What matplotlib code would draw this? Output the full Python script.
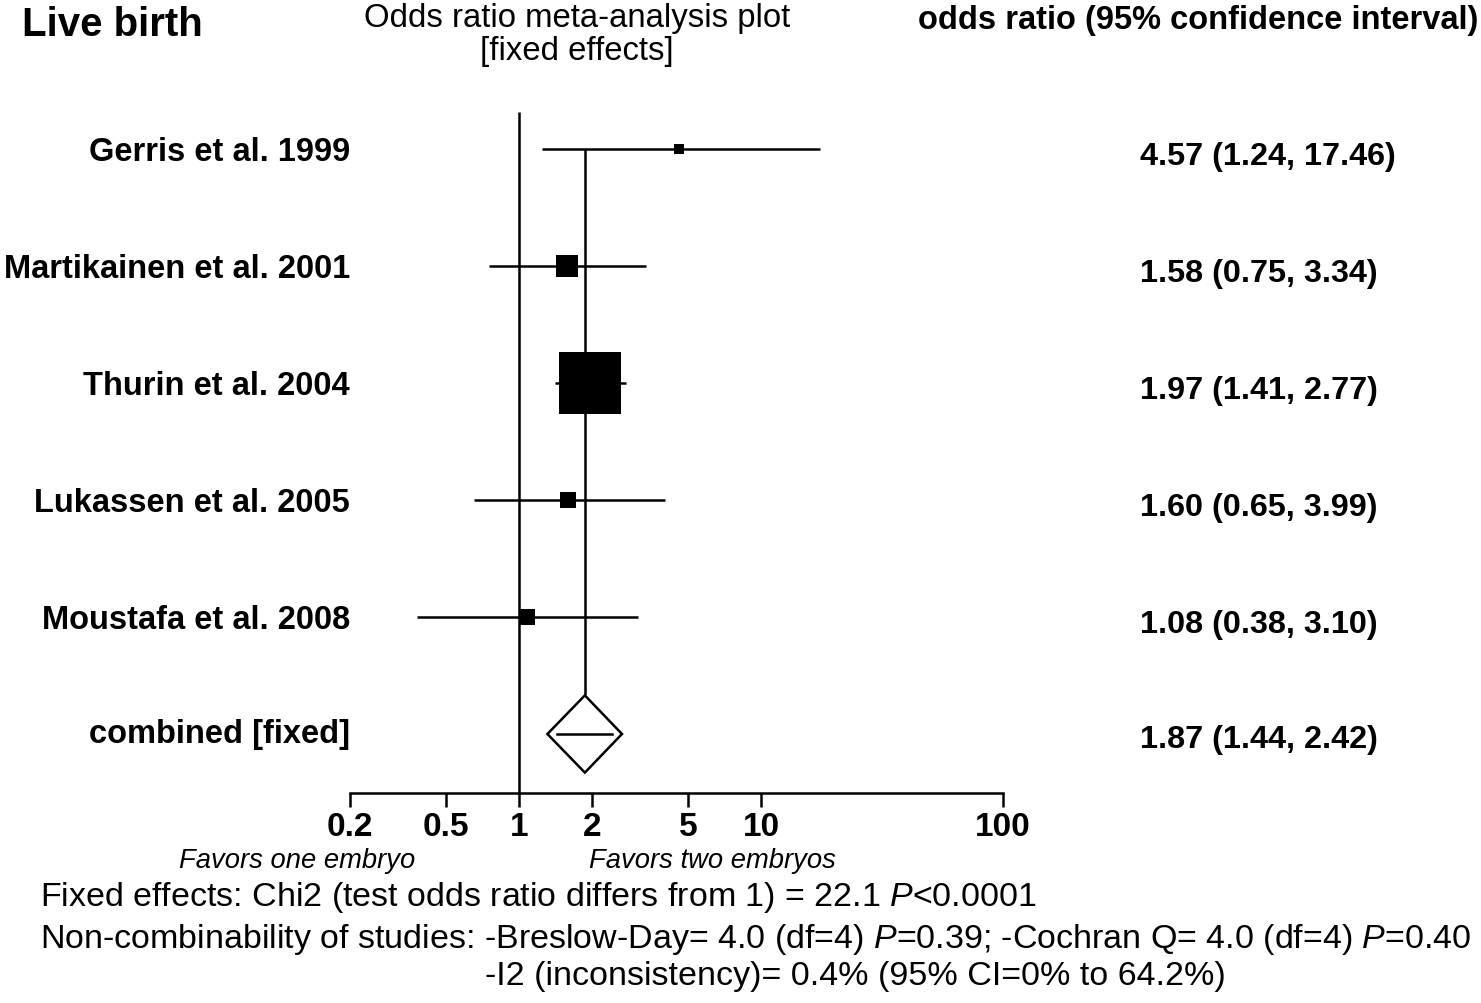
import numpy as np
import matplotlib
matplotlib.use("Agg")
import matplotlib.pyplot as plt
from matplotlib import transforms
from matplotlib.patches import Polygon

plt.rcParams["font.family"] = ["Liberation Sans", "DejaVu Sans"]
plt.rcParams["mathtext.fontset"] = "custom"
plt.rcParams["mathtext.rm"] = "Liberation Sans"
plt.rcParams["mathtext.it"] = "Liberation Sans:italic"

studies = ["Gerris et al. 1999", "Martikainen et al. 2001", "Thurin et al. 2004",
           "Lukassen et al. 2005", "Moustafa et al. 2008"]
odds = [4.57, 1.58, 1.97, 1.60, 1.08]
ci_low = [1.24, 0.75, 1.41, 0.65, 0.38]
ci_high = [17.46, 3.34, 2.77, 3.99, 3.10]
weights = [2.1, 9.2, 77.9, 5.4, 5.4]  # % weight, read from square areas

pooled_label = "combined [fixed]"
pooled_or = 1.87
pooled_low = 1.44
pooled_high = 2.42

tick_values = [0.2, 0.5, 1, 2, 5, 10, 100]
tick_labels = ["0.2", "0.5", "1", "2", "5", "10", "100"]

W, H = 1481, 1004
fig = plt.figure(figsize=(W / 100, H / 100), dpi=100)


def fx(px):
    return px / W


def fy(py):
    return 1 - py / H


ax = fig.add_axes([fx(350), fy(793.5), fx(1003) - fx(350), (793.5 - 91.5) / H])
ax.set_xscale("log")
ax.set_xlim(0.2, 100)
ax.set_ylim(6.5, 0.5)

rows = np.arange(1, len(studies) + 1)
pooled_row = len(studies) + 1
lw = 1.8

# line of no effect and pooled estimate line
ax.plot([1, 1], [0.68, 6.5], color="black", lw=lw, solid_capstyle="butt")
ax.plot([pooled_or, pooled_or], [1, pooled_row - 0.33], color="black", lw=lw,
        solid_capstyle="butt")

for r, o, lo, hi, w in zip(rows, odds, ci_low, ci_high, weights):
    ax.plot([lo, hi], [r, r], color="black", lw=lw, solid_capstyle="butt")
    size = 50 * np.sqrt(w / 100)  # side in points
    ax.scatter([o], [r], marker="s", s=size ** 2, color="black", zorder=3,
               linewidths=0)

# pooled diamond (drawn a little wider than the CI, CI shown inside)
pad = 1.1
dia = [(pooled_low / pad, pooled_row), (pooled_or, pooled_row - 0.33),
       (pooled_high * pad, pooled_row), (pooled_or, pooled_row + 0.33)]
ax.add_patch(Polygon(dia, closed=True, facecolor="white", edgecolor="black",
                     lw=lw, zorder=3))
ax.plot([pooled_low, pooled_high], [pooled_row, pooled_row], color="black",
        lw=lw, zorder=4)

for s in ["top", "left", "right"]:
    ax.spines[s].set_visible(False)
ax.spines["bottom"].set_linewidth(lw)
ax.set_yticks([])
ax.set_xticks(tick_values)
ax.set_xticklabels(tick_labels)
ax.xaxis.set_minor_locator(matplotlib.ticker.NullLocator())
ax.tick_params(axis="x", direction="out", length=10, width=lw, pad=3,
               labelsize=24)
for t in ax.get_xticklabels():
    t.set_fontweight("bold")

# text columns
blend = transforms.blended_transform_factory(fig.transFigure, ax.transData)
for r, name, o, lo, hi in zip(rows, studies, odds, ci_low, ci_high):
    ax.text(fx(350), r + 0.02, name, transform=blend, ha="right", va="center",
            fontsize=23.5, fontweight="bold")
    ax.text(fx(1140), r + 0.06, f"{o:.2f} ({lo:.2f}, {hi:.2f})", transform=blend,
            ha="left", va="center", fontsize=23.3, fontweight="bold")
ax.text(fx(350), pooled_row, pooled_label, transform=blend, ha="right",
        va="center", fontsize=23.5, fontweight="bold")
ax.text(fx(1140), pooled_row + 0.04,
        f"{pooled_or:.2f} ({pooled_low:.2f}, {pooled_high:.2f})",
        transform=blend, ha="left", va="center", fontsize=23.3, fontweight="bold")

fig.text(fx(22), fy(25), "Live birth", ha="left", va="center", fontsize=29,
         fontweight="bold")
fig.text(fx(577), fy(35), "Odds ratio meta-analysis plot\n[fixed effects]",
         ha="center", va="center", fontsize=23.7, linespacing=1.05)
fig.text(fx(1478), fy(21), "odds ratio (95% confidence interval)", ha="right",
         va="center", fontsize=23.5, fontweight="bold")

fig.text(fx(297), fy(861), "Favors one embryo", ha="center", va="center",
         fontsize=19.7, style="italic")
fig.text(fx(712), fy(861), "Favors two embryos", ha="center", va="center",
         fontsize=19.7, style="italic")
fig.text(fx(40), fy(898),
         r"Fixed effects: Chi2 (test odds ratio differs from 1) = 22.1 $\it{P}$<0.0001",
         ha="left", va="center", fontsize=24.5)
fig.text(fx(40), fy(940),
         r"Non-combinability of studies: -Breslow-Day= 4.0 (df=4) $\it{P}$=0.39; "
         r"-Cochran Q= 4.0 (df=4) $\it{P}$=0.40",
         ha="left", va="center", fontsize=24.5)
fig.text(fx(485), fy(977), "-I2 (inconsistency)= 0.4% (95% CI=0% to 64.2%)",
         ha="left", va="center", fontsize=24.5)

fig.savefig("out.png", dpi=100, facecolor="white")
